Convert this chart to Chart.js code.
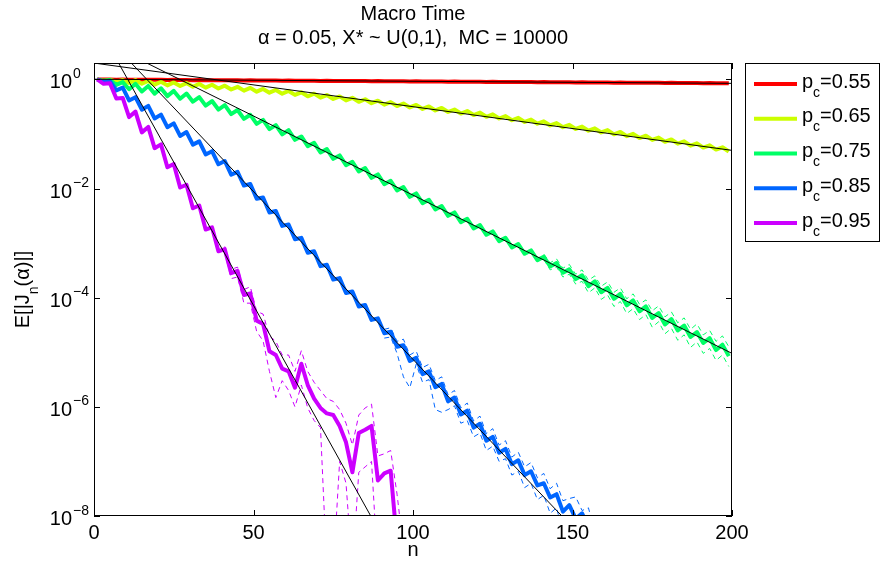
<!DOCTYPE html>
<html><head><meta charset="utf-8">
<script src="https://cdn.jsdelivr.net/npm/chart.js@4.4.1/dist/chart.umd.min.js"></script>
<style>html,body{margin:0;padding:0;background:#fff;overflow:hidden}canvas{display:block}</style>
</head><body>
<canvas id="c" width="881" height="562"></canvas>
<script>
// ---------- data (log10 of E[|J_n(alpha)|]) ----------
const nGrid = [1,3,5,7,9,11,13,15,17,19,21,23,25,27,29,31,33,35,37,39,41,43,45,47,49,51,53,55,57,59,61,63,65,67,69,71,73,75,77,79,81,83,85,87,89,91,93,95,97,99,101,103,105,107,109,111,113,115,117,119,121,123,125,127,129,131,133,135,137,139,141,143,145,147,149,151,153,155,157,159,161,163,165,167,169,171,173,175,177,179,181,183,185,187,189,191,193,195,197,199];

const log10E_pc055 = [0,-0.003,-0.001,-0.004,-0.003,-0.006,-0.004,-0.007,-0.006,-0.008,
-0.007,-0.010,-0.008,-0.011,-0.010,-0.013,-0.011,-0.014,-0.013,-0.015,
-0.014,-0.017,-0.015,-0.018,-0.017,-0.020,-0.018,-0.021,-0.020,-0.022,
-0.021,-0.024,-0.022,-0.025,-0.024,-0.027,-0.025,-0.028,-0.027,-0.029,
-0.028,-0.031,-0.029,-0.032,-0.031,-0.034,-0.032,-0.035,-0.034,-0.036,
-0.035,-0.038,-0.036,-0.039,-0.038,-0.041,-0.039,-0.042,-0.041,-0.043,
-0.042,-0.045,-0.043,-0.046,-0.045,-0.048,-0.046,-0.049,-0.048,-0.050,
-0.049,-0.052,-0.050,-0.053,-0.052,-0.055,-0.053,-0.056,-0.055,-0.057,
-0.056,-0.059,-0.057,-0.060,-0.059,-0.062,-0.060,-0.063,-0.062,-0.064,
-0.063,-0.066,-0.064,-0.067,-0.066,-0.069,-0.067,-0.070,-0.069,-0.071];

const log10E_pc065 = [0,-0.020,-0.005,-0.040,-0.010,-0.064,-0.012,-0.080,-0.028,-0.096,
-0.043,-0.109,-0.055,-0.121,-0.067,-0.134,-0.082,-0.150,-0.098,-0.166,
-0.115,-0.185,-0.135,-0.205,-0.155,-0.225,-0.174,-0.243,-0.192,-0.261,
-0.211,-0.284,-0.236,-0.309,-0.261,-0.334,-0.286,-0.359,-0.311,-0.384,
-0.337,-0.410,-0.363,-0.436,-0.389,-0.462,-0.415,-0.488,-0.441,-0.514,
-0.467,-0.541,-0.495,-0.569,-0.523,-0.597,-0.551,-0.625,-0.579,-0.653,
-0.608,-0.684,-0.640,-0.716,-0.672,-0.748,-0.704,-0.780,-0.736,-0.812,
-0.768,-0.844,-0.800,-0.876,-0.832,-0.908,-0.864,-0.940,-0.896,-0.972,
-0.929,-1.006,-0.963,-1.040,-0.997,-1.074,-1.031,-1.108,-1.065,-1.142,
-1.099,-1.177,-1.135,-1.213,-1.171,-1.249,-1.207,-1.285,-1.243,-1.321];

const log10E_pc075 = [0,-0.03,-0.01,-0.10,-0.05,-0.18,-0.08,-0.22,-0.12,-0.26,
-0.162,-0.306,-0.21,-0.354,-0.258,-0.408,-0.324,-0.48,-0.396,-0.552,
-0.472,-0.636,-0.56,-0.724,-0.648,-0.814,-0.742,-0.91,-0.838,-1.006,
-0.929,-1.107,-1.045,-1.223,-1.161,-1.339,-1.277,-1.455,-1.393,-1.571,
-1.509,-1.687,-1.625,-1.803,-1.741,-1.919,-1.857,-2.035,-1.973,-2.151,
-2.089,-2.267,-2.205,-2.383,-2.321,-2.499,-2.437,-2.615,-2.553,-2.731,
-2.669,-2.847,-2.785,-2.963,-2.901,-3.079,-3.017,-3.195,-3.133,-3.311,
-3.249,-3.427,-3.365,-3.543,-3.481,-3.659,-3.59,-3.79,-3.70,-3.90,
-3.82,-4.02,-3.93,-4.14,-4.05,-4.25,-4.16,-4.37,-4.28,-4.49,
-4.39,-4.60,-4.51,-4.72,-4.63,-4.83,-4.74,-4.96,-4.86,-5.07];

const log10E_pc085 = [0,-0.04,-0.03,-0.20,-0.15,-0.385,-0.325,-0.555,-0.485,-0.715,
-0.645,-0.875,-0.805,-1.035,-0.965,-1.195,-1.135,-1.375,-1.315,-1.555,
-1.495,-1.745,-1.695,-1.945,-1.915,-2.185,-2.165,-2.438,-2.411,-2.684,
-2.657,-2.930,-2.903,-3.176,-3.149,-3.422,-3.395,-3.668,-3.641,-3.914,
-3.887,-4.160,-4.133,-4.406,-4.379,-4.652,-4.625,-4.898,-4.871,-5.16,
-5.10,-5.40,-5.35,-5.64,-5.58,-5.90,-5.83,-6.14,-6.07,-6.38,
-6.31,-6.62,-6.55,-6.84,-6.77,-7.05,-6.98,-7.25,-7.18,-7.44,
-7.40,-7.66,-7.60,-7.92,-7.80,-8.05,-7.95,-8.2,-8.6];

const log10E_pc095 = [0,-0.08,-0.07,-0.35,-0.34,-0.69,-0.59,-0.97,-0.87,-1.26,
-1.19,-1.61,-1.55,-1.98,-1.93,-2.36,-2.31,-2.75,-2.71,-3.15,
-3.11,-3.55,-3.51,-3.95,-3.92,-4.42,-4.48,-4.98,-5.05,-5.30,
-5.35,-5.65,-5.21,-5.60,-5.85,-6.02,-6.12,-6.15,-6.35,-6.65,
-7.20,-6.48,-6.42,-6.35,-7.35,-7.22,-7.17,-8.5];

// dashed confidence curves (only where they separate from the mean curve)
const nBand_pc075 = [141,143,145,147,149,151,153,155,157,159,161,163,165,167,169,171,173,175,177,179,181,183,185,187,189,191,193,195,197,199];
const log10Upper_pc075 = [-3.20,-3.36,-3.29,-3.46,-3.39,-3.57,-3.49,-3.68,-3.60,-3.79,-3.71,-3.90,-3.82,-4.02,-3.93,-4.12,-4.04,-4.24,-4.15,-4.35,-4.26,-4.46,-4.37,-4.58,-4.48,-4.68,-4.60,-4.80,-4.70,-4.90];
const log10Lower_pc075 = [-3.30,-3.49,-3.44,-3.62,-3.57,-3.75,-3.70,-3.91,-3.82,-4.03,-3.95,-4.16,-4.07,-4.29,-4.20,-4.40,-4.31,-4.54,-4.44,-4.66,-4.56,-4.78,-4.68,-4.91,-4.81,-5.02,-4.93,-5.15,-5.05,-5.26];

const nUpper_pc085 = [91,93,95,97,99,101,103,105,107,109,111,113,115,117,119,121,123,125,127,129,131,133,135,137,139,141,143,145,147,149,151,153,155,157];
const log10Upper_pc085 = [-4.58,-4.55,-4.80,-4.76,-5.05,-4.98,-5.28,-5.22,-5.52,-5.45,-5.78,-5.70,-6.02,-5.93,-6.26,-6.17,-6.49,-6.40,-6.70,-6.62,-6.92,-6.83,-7.10,-7.02,-7.30,-7.22,-7.50,-7.40,-7.72,-7.68,-7.65,-7.90,-7.85,-8.3];
const nLower_pc085 = [91,93,95,97,99,101,103,105,107,109,111,113,115,117,119,121,123,125,127,129,131,133,135,137,139,141,143,145,147];
const log10Lower_pc085 = [-4.74,-4.72,-5.02,-5.45,-5.65,-5.22,-5.55,-5.50,-6.05,-6.10,-6.05,-5.98,-6.30,-6.25,-6.55,-6.48,-6.80,-6.72,-7.00,-6.95,-7.25,-7.18,-7.48,-7.40,-7.70,-7.62,-7.95,-7.85,-8.3];

const nUpper_pc095 = [41,43,45,47,49,51,53,55,57,59,61,63,65,67,69,71,73,75,77,79,81,83,85,87,89,91,93,95,97];
const log10Upper_pc095 = [-3.06,-3.48,-3.44,-3.85,-3.80,-4.25,-4.30,-4.70,-4.80,-5.05,-5.05,-5.35,-4.97,-5.35,-5.55,-5.70,-5.85,-5.90,-6.05,-6.30,-6.70,-6.15,-6.02,-5.95,-6.90,-6.86,-6.80,-7.6,-8.6];
const nLower_pc095 = [41,43,45,47,49,51,53,55,57,59,61,63,65,67,69,71,73,75,77,79,81,83,85,87,89];
const log10Lower_pc095 = [-3.18,-3.65,-3.62,-4.10,-4.10,-4.62,-4.79,-5.35,-5.83,-5.52,-5.70,-6.00,-5.60,-6.02,-6.25,-6.38,-9,-9,-7.0,-7.4,-9,-7.2,-7.1,-7.0,-9];

// exponential fits (straight lines on the log axis): log10 value at n = 0 and n = 200
const fitN = [0, 200];
const fitLog_pc055 = [0.004, -0.072];
const fitLog_pc065 = [0.30, -1.30];
const fitLog_pc075 = [0.78, -5.02];
const fitLog_pc085 = [1.02, -11.28];
const fitLog_pc095 = [1.11, -19.89];

const legendValues = ['0.55', '0.65', '0.75', '0.85', '0.95'];
const seriesColors = ['#ff0000', '#ccff00', '#00ff66', '#0066ff', '#cc00ff'];
const xTicks = [0, 50, 100, 150, 200];
const yTickExponents = [0, -2, -4, -6, -8];
const titleLine1 = 'Macro Time';
const titleLine2 = 'α = 0.05, X* ~ U(0,1),  MC = 10000';
const xLabel = 'n';

// ---------- build ----------
const FONT = '"Liberation Sans", Arial, Helvetica, sans-serif';
function pts(ns, logs) { return logs.map((v, i) => ({ x: ns[i], y: Math.pow(10, v) })); }

const series = [
  { logs: log10E_pc055, fit: fitLog_pc055, bands: [] },
  { logs: log10E_pc065, fit: fitLog_pc065, bands: [] },
  { logs: log10E_pc075, fit: fitLog_pc075, bands: [[nBand_pc075, log10Upper_pc075], [nBand_pc075, log10Lower_pc075]] },
  { logs: log10E_pc085, fit: fitLog_pc085, bands: [[nUpper_pc085, log10Upper_pc085], [nLower_pc085, log10Lower_pc085]] },
  { logs: log10E_pc095, fit: fitLog_pc095, bands: [[nUpper_pc095, log10Upper_pc095], [nLower_pc095, log10Lower_pc095]] }
];

const datasets = [];
series.forEach((s, k) => {
  datasets.push({ data: pts(nGrid, s.logs), borderColor: seriesColors[k], borderWidth: 4,
    pointRadius: 0, borderJoinStyle: 'round', borderCapStyle: 'butt', order: 50 - 10 * k });
  s.bands.forEach(b => datasets.push({ data: pts(b[0], b[1]), borderColor: seriesColors[k], borderWidth: 1,
    borderDash: [5, 4], pointRadius: 0, order: 55 - 10 * k }));
  datasets.push({ data: pts(fitN, s.fit), borderColor: '#000', borderWidth: 1, pointRadius: 0, order: k });
});

function drawSubText(ctx, x, y, parts, align) {
  // parts: [text, isSub]
  const big = `20px ${FONT}`, small = `14px ${FONT}`;
  let total = 0;
  parts.forEach(p => { ctx.font = p[1] ? small : big; total += ctx.measureText(p[0]).width; });
  let cx = align === 'center' ? x - total / 2 : x;
  ctx.textAlign = 'left';
  parts.forEach(p => {
    ctx.font = p[1] ? small : big;
    ctx.fillText(p[0], cx, p[1] ? y + 9 : y);
    cx += ctx.measureText(p[0]).width;
  });
}

const decor = {
  id: 'decor',
  beforeDraw(chart) {
    const ctx = chart.ctx;
    ctx.save(); ctx.fillStyle = '#fff'; ctx.fillRect(0, 0, chart.width, chart.height); ctx.restore();
  },
  afterDraw(chart) {
    const ctx = chart.ctx, a = chart.chartArea, xs = chart.scales.x, ys = chart.scales.y;
    ctx.save();
    ctx.strokeStyle = '#000'; ctx.fillStyle = '#000'; ctx.lineWidth = 1;
    // axes box
    ctx.strokeRect(a.left + 0.5, a.top + 0.5, a.right - a.left - 1, a.bottom - a.top - 1);
    // ticks
    ctx.beginPath();
    xTicks.forEach(v => {
      const px = Math.round(xs.getPixelForValue(v)) + 0.5;
      ctx.moveTo(px, a.bottom); ctx.lineTo(px, a.bottom - 6);
      ctx.moveTo(px, a.top); ctx.lineTo(px, a.top + 6);
    });
    yTickExponents.forEach(e => {
      const py = Math.round(ys.getPixelForValue(Math.pow(10, e))) + 0.5;
      ctx.moveTo(a.left, py); ctx.lineTo(a.left + 6, py);
      ctx.moveTo(a.right, py); ctx.lineTo(a.right - 6, py);
    });
    ctx.stroke();
    // x tick labels
    ctx.font = `20px ${FONT}`; ctx.textAlign = 'center'; ctx.textBaseline = 'alphabetic';
    xTicks.forEach(v => ctx.fillText(String(v), xs.getPixelForValue(v), a.bottom + 23));
    // y tick labels 10^e
    yTickExponents.forEach(e => {
      const py = ys.getPixelForValue(Math.pow(10, e));
      ctx.font = `20px ${FONT}`; ctx.textAlign = 'right';
      ctx.fillText('10', a.left - 22, py + 9);
      ctx.font = `14px ${FONT}`; ctx.textAlign = 'left';
      ctx.fillText(e === 0 ? '0' : '\u2212' + Math.abs(e), a.left - 21, py - 1.5);
    });
    // titles
    const cx = (a.left + a.right) / 2;
    ctx.font = `20px ${FONT}`; ctx.textAlign = 'center';
    ctx.fillText(titleLine1, cx, 20);
    ctx.fillText(titleLine2, cx, 44);
    ctx.fillText(xLabel, cx, 556);
    // y label
    ctx.save();
    ctx.translate(29, (a.top + a.bottom) / 2);
    ctx.rotate(-Math.PI / 2);
    drawSubText(ctx, 0, 0, [['E[|J', false], ['n', true], ['(α)|]', false]], 'center');
    ctx.restore();
    // legend
    ctx.fillStyle = '#fff';
    ctx.fillRect(745, 63, 135, 179);
    ctx.strokeRect(745.5, 63.5, 134, 178);
    legendValues.forEach((lab, k) => {
      const y = 84 + 34.75 * k;
      ctx.strokeStyle = seriesColors[k]; ctx.lineWidth = 4; ctx.lineCap = 'butt';
      ctx.beginPath(); ctx.moveTo(754, y); ctx.lineTo(797, y); ctx.stroke();
      ctx.fillStyle = '#000';
      drawSubText(ctx, 802, y + 3.5, [['p', false], ['c', true], ['=' + lab, false]], 'left');
    });
    ctx.restore();
  }
};

new Chart(document.getElementById('c'), {
  type: 'line',
  data: { datasets },
  options: {
    animation: false, responsive: false, devicePixelRatio: 1, events: [],
    layout: { padding: { left: 94, right: 149, top: 63, bottom: 46 } },
    elements: { line: { tension: 0 } },
    plugins: { legend: { display: false }, tooltip: { enabled: false }, title: { display: false } },
    scales: {
      x: { type: 'linear', min: 0, max: 200, display: false },
      y: { type: 'logarithmic', min: 1e-8, max: 2, display: false }
    }
  },
  plugins: [decor]
});
</script>
</body></html>
